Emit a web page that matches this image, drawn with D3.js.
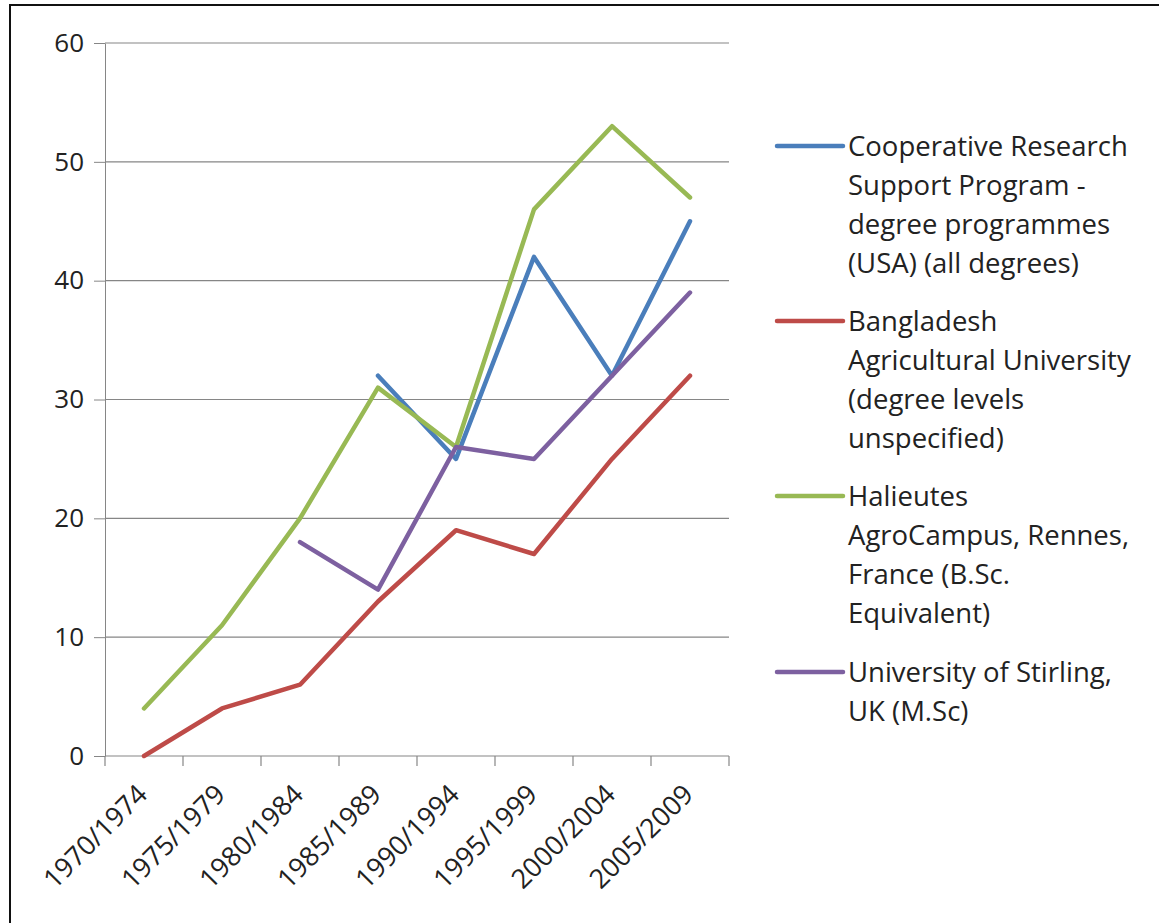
<!DOCTYPE html>
<html>
<head>
<meta charset="utf-8">
<script src="https://cdn.jsdelivr.net/npm/d3@7"></script>
<style>
  body { margin: 0; background: #fff; }
  svg { display: block; font-family: "Open Sans", "Liberation Sans", sans-serif; }
</style>
</head>
<body>
<div class="box"></div>
<script>
// data
const periods = ['1970/1974', '1975/1979', '1980/1984', '1985/1989',
                 '1990/1994', '1995/1999', '2000/2004', '2005/2009'];
const crsp       = [null, null, null, 32, 25, 42, 32, 45];
const bangladesh = [0, 4, 6, 13, 19, 17, 25, 32];
const halieutes  = [4, 11, 20, 31, 26, 46, 53, 47];
const stirling   = [null, null, 18, 14, 26, 25, 32, 39];
const yTicks = [0, 10, 20, 30, 40, 50, 60];

const series = [
  { lines: ['Cooperative Research', 'Support Program -', 'degree programmes', '(USA) (all degrees)'],
    values: crsp, color: '#4a7ebb' },
  { lines: ['Bangladesh', 'Agricultural University', '(degree levels', 'unspecified)'],
    values: bangladesh, color: '#be4b48' },
  { lines: ['Halieutes', 'AgroCampus, Rennes,', 'France (B.Sc.', 'Equivalent)'],
    values: halieutes, color: '#98b954' },
  { lines: ['University of Stirling,', 'UK (M.Sc)'],
    values: stirling, color: '#7d60a0' }
];

const svg = d3.select('.box').append('svg')
              .attr('width', 1159)
              .attr('height', 923);

// frame
svg.append('rect')
   .attr('x', 10).attr('y', 5)
   .attr('width', 1160).attr('height', 930)
   .attr('fill', 'none')
   .attr('stroke', '#111')
   .attr('stroke-width', 2);

const x = d3.scaleBand().domain(periods).range([105, 729]);
const y = d3.scaleLinear().domain([0, 60]).range([756, 43]);

// y axis + labels
const yAxis = svg.append('g')
   .attr('transform', 'translate(105,0)')
   .call(d3.axisLeft(y).tickValues(yTicks).tickSize(11).tickPadding(10)
           .tickSizeOuter(0));
yAxis.select('.domain').attr('stroke', '#868686');
yAxis.selectAll('line').attr('stroke', '#868686');
yAxis.selectAll('text').attr('font-size', 26).attr('fill', '#222')
     .attr('font-family', '"Open Sans", "Liberation Sans", sans-serif');

// horizontal grid
svg.append('g')
   .selectAll('line')
   .data(yTicks)
   .join('line')
   .attr('x1', 105).attr('x2', 729)
   .attr('y1', d => y(d)).attr('y2', d => y(d))
   .attr('stroke', '#868686')
   .attr('stroke-width', 1.2);

// x axis labels, rotated
const xAxis = svg.append('g')
   .attr('transform', 'translate(0,756)')
   .call(d3.axisBottom(x).tickSize(0).tickPadding(0));
xAxis.select('.domain').remove();
xAxis.selectAll('text')
     .attr('font-size', 27)
     .attr('fill', '#222')
     .attr('font-family', '"Open Sans", "Liberation Sans", sans-serif')
     .attr('text-anchor', 'end')
     .attr('dy', 0)
     .attr('transform', 'translate(5,40) rotate(-45)');

// x ticks on band edges
svg.append('g')
   .selectAll('line')
   .data(periods.map(p => x(p)).concat([x.range()[1]]))
   .join('line')
   .attr('x1', d => d).attr('x2', d => d)
   .attr('y1', 756).attr('y2', 766)
   .attr('stroke', '#868686')
   .attr('stroke-width', 1.2);

// series lines
const line = d3.line()
   .defined(d => d.v !== null)
   .x(d => x(d.p) + x.bandwidth() / 2)
   .y(d => y(d.v));

svg.append('g')
   .selectAll('path')
   .data(series)
   .join('path')
   .attr('d', s => line(periods.map((p, i) => ({ p: p, v: s.values[i] }))))
   .attr('fill', 'none')
   .attr('stroke', s => s.color)
   .attr('stroke-width', 4.5)
   .attr('stroke-linejoin', 'round')
   .attr('stroke-linecap', 'round');

// legend
const legendTop = [146, 321, 496, 672];
const lineH = 39;
const legend = svg.append('g')
   .selectAll('g')
   .data(series)
   .join('g')
   .attr('transform', (s, i) => `translate(777,${legendTop[i]})`);

legend.append('line')
   .attr('x1', 0).attr('x2', 66)
   .attr('stroke', s => s.color)
   .attr('stroke-width', 4.5)
   .attr('stroke-linecap', 'round');

legend.append('text')
   .attr('font-size', 27.5)
   .attr('fill', '#222')
   .selectAll('tspan')
   .data(s => s.lines)
   .join('tspan')
   .attr('x', 71)
   .attr('y', (d, i) => i * lineH)
   .attr('dy', '0.36em')
   .text(d => d);
</script>
</body>
</html>
